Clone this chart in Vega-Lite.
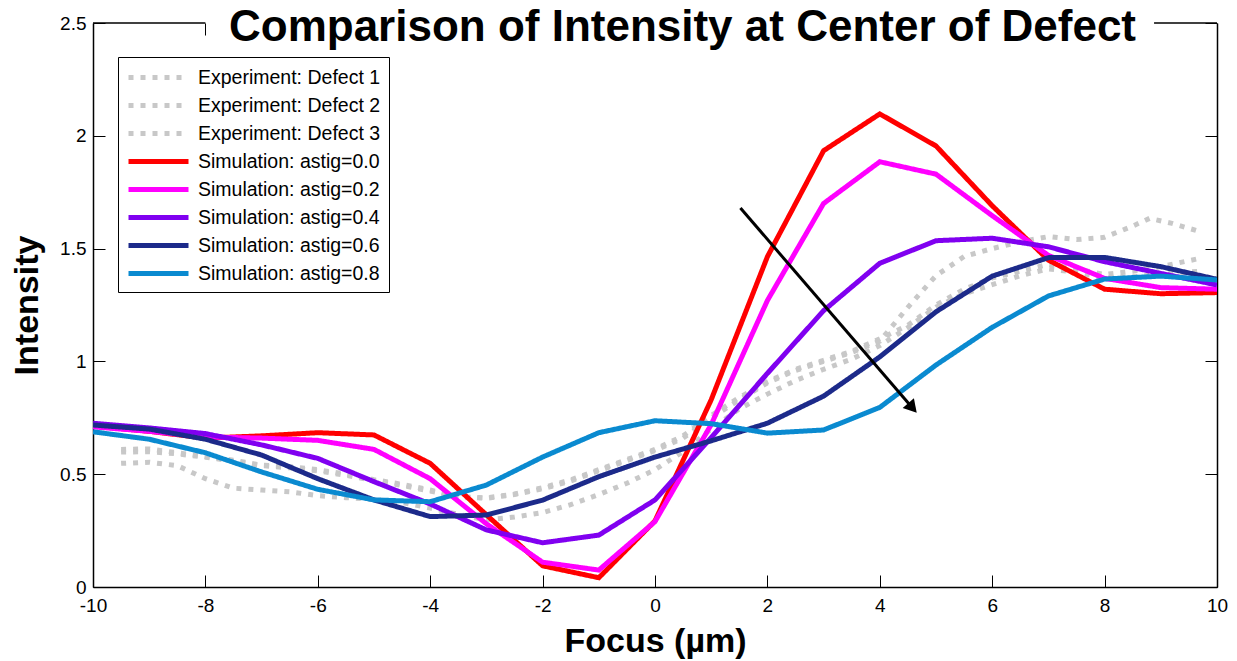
{
  "$schema": "https://vega.github.io/schema/vega-lite/v6.json",
  "width": 1124,
  "height": 564,
  "autosize": {"type": "none"},
  "padding": {"left": 93, "top": 23, "right": 20, "bottom": 74},
  "background": "white",
  "config": {"view": {"stroke": null}, "font": "Liberation Sans"},
  "datasets": {
    "curves": [
      {"focus": -9.5, "intensity": 0.61, "series": "Experiment: Defect 1"},
      {"focus": -9, "intensity": 0.612, "series": "Experiment: Defect 1"},
      {"focus": -8.5, "intensity": 0.595, "series": "Experiment: Defect 1"},
      {"focus": -8, "intensity": 0.578, "series": "Experiment: Defect 1"},
      {"focus": -7.5, "intensity": 0.562, "series": "Experiment: Defect 1"},
      {"focus": -7, "intensity": 0.54, "series": "Experiment: Defect 1"},
      {"focus": -6.5, "intensity": 0.533, "series": "Experiment: Defect 1"},
      {"focus": -6, "intensity": 0.52, "series": "Experiment: Defect 1"},
      {"focus": -5.5, "intensity": 0.5, "series": "Experiment: Defect 1"},
      {"focus": -5, "intensity": 0.476, "series": "Experiment: Defect 1"},
      {"focus": -4.5, "intensity": 0.455, "series": "Experiment: Defect 1"},
      {"focus": -4, "intensity": 0.43, "series": "Experiment: Defect 1"},
      {"focus": -3.5, "intensity": 0.4, "series": "Experiment: Defect 1"},
      {"focus": -3, "intensity": 0.393, "series": "Experiment: Defect 1"},
      {"focus": -2.5, "intensity": 0.41, "series": "Experiment: Defect 1"},
      {"focus": -2, "intensity": 0.435, "series": "Experiment: Defect 1"},
      {"focus": -1.5, "intensity": 0.47, "series": "Experiment: Defect 1"},
      {"focus": -1, "intensity": 0.515, "series": "Experiment: Defect 1"},
      {"focus": -0.5, "intensity": 0.56, "series": "Experiment: Defect 1"},
      {"focus": 0, "intensity": 0.605, "series": "Experiment: Defect 1"},
      {"focus": 0.5, "intensity": 0.66, "series": "Experiment: Defect 1"},
      {"focus": 1, "intensity": 0.75, "series": "Experiment: Defect 1"},
      {"focus": 1.5, "intensity": 0.83, "series": "Experiment: Defect 1"},
      {"focus": 2, "intensity": 0.905, "series": "Experiment: Defect 1"},
      {"focus": 2.5, "intensity": 0.96, "series": "Experiment: Defect 1"},
      {"focus": 3, "intensity": 1.0, "series": "Experiment: Defect 1"},
      {"focus": 3.5, "intensity": 1.04, "series": "Experiment: Defect 1"},
      {"focus": 4, "intensity": 1.09, "series": "Experiment: Defect 1"},
      {"focus": 4.5, "intensity": 1.24, "series": "Experiment: Defect 1"},
      {"focus": 5, "intensity": 1.38, "series": "Experiment: Defect 1"},
      {"focus": 5.5, "intensity": 1.465, "series": "Experiment: Defect 1"},
      {"focus": 6, "intensity": 1.5, "series": "Experiment: Defect 1"},
      {"focus": 6.5, "intensity": 1.53, "series": "Experiment: Defect 1"},
      {"focus": 7, "intensity": 1.553, "series": "Experiment: Defect 1"},
      {"focus": 7.5, "intensity": 1.54, "series": "Experiment: Defect 1"},
      {"focus": 8, "intensity": 1.55, "series": "Experiment: Defect 1"},
      {"focus": 8.5, "intensity": 1.6, "series": "Experiment: Defect 1"},
      {"focus": 8.8, "intensity": 1.634, "series": "Experiment: Defect 1"},
      {"focus": 9.2, "intensity": 1.612, "series": "Experiment: Defect 1"},
      {"focus": 9.7, "intensity": 1.575, "series": "Experiment: Defect 1"},
      {"focus": -9.5, "intensity": 0.598, "series": "Experiment: Defect 2"},
      {"focus": -9, "intensity": 0.6, "series": "Experiment: Defect 2"},
      {"focus": -8.5, "intensity": 0.59, "series": "Experiment: Defect 2"},
      {"focus": -8, "intensity": 0.575, "series": "Experiment: Defect 2"},
      {"focus": -7.5, "intensity": 0.558, "series": "Experiment: Defect 2"},
      {"focus": -7, "intensity": 0.538, "series": "Experiment: Defect 2"},
      {"focus": -6.5, "intensity": 0.528, "series": "Experiment: Defect 2"},
      {"focus": -6, "intensity": 0.515, "series": "Experiment: Defect 2"},
      {"focus": -5.5, "intensity": 0.495, "series": "Experiment: Defect 2"},
      {"focus": -5, "intensity": 0.472, "series": "Experiment: Defect 2"},
      {"focus": -4.5, "intensity": 0.45, "series": "Experiment: Defect 2"},
      {"focus": -4, "intensity": 0.425, "series": "Experiment: Defect 2"},
      {"focus": -3.5, "intensity": 0.4, "series": "Experiment: Defect 2"},
      {"focus": -3, "intensity": 0.395, "series": "Experiment: Defect 2"},
      {"focus": -2.5, "intensity": 0.412, "series": "Experiment: Defect 2"},
      {"focus": -2, "intensity": 0.44, "series": "Experiment: Defect 2"},
      {"focus": -1.5, "intensity": 0.475, "series": "Experiment: Defect 2"},
      {"focus": -1, "intensity": 0.52, "series": "Experiment: Defect 2"},
      {"focus": -0.5, "intensity": 0.565, "series": "Experiment: Defect 2"},
      {"focus": 0, "intensity": 0.61, "series": "Experiment: Defect 2"},
      {"focus": 0.5, "intensity": 0.67, "series": "Experiment: Defect 2"},
      {"focus": 1, "intensity": 0.76, "series": "Experiment: Defect 2"},
      {"focus": 1.5, "intensity": 0.84, "series": "Experiment: Defect 2"},
      {"focus": 2, "intensity": 0.91, "series": "Experiment: Defect 2"},
      {"focus": 2.5, "intensity": 0.965, "series": "Experiment: Defect 2"},
      {"focus": 3, "intensity": 1.005, "series": "Experiment: Defect 2"},
      {"focus": 3.5, "intensity": 1.045, "series": "Experiment: Defect 2"},
      {"focus": 4, "intensity": 1.1, "series": "Experiment: Defect 2"},
      {"focus": 4.5, "intensity": 1.16, "series": "Experiment: Defect 2"},
      {"focus": 5, "intensity": 1.25, "series": "Experiment: Defect 2"},
      {"focus": 5.5, "intensity": 1.32, "series": "Experiment: Defect 2"},
      {"focus": 6, "intensity": 1.37, "series": "Experiment: Defect 2"},
      {"focus": 6.5, "intensity": 1.4, "series": "Experiment: Defect 2"},
      {"focus": 7, "intensity": 1.43, "series": "Experiment: Defect 2"},
      {"focus": 7.5, "intensity": 1.41, "series": "Experiment: Defect 2"},
      {"focus": 8, "intensity": 1.385, "series": "Experiment: Defect 2"},
      {"focus": 8.5, "intensity": 1.4, "series": "Experiment: Defect 2"},
      {"focus": 9, "intensity": 1.42, "series": "Experiment: Defect 2"},
      {"focus": 9.7, "intensity": 1.457, "series": "Experiment: Defect 2"},
      {"focus": -9.5, "intensity": 0.548, "series": "Experiment: Defect 3"},
      {"focus": -9, "intensity": 0.553, "series": "Experiment: Defect 3"},
      {"focus": -8.5, "intensity": 0.538, "series": "Experiment: Defect 3"},
      {"focus": -8, "intensity": 0.48, "series": "Experiment: Defect 3"},
      {"focus": -7.5, "intensity": 0.438, "series": "Experiment: Defect 3"},
      {"focus": -7, "intensity": 0.43, "series": "Experiment: Defect 3"},
      {"focus": -6.5, "intensity": 0.422, "series": "Experiment: Defect 3"},
      {"focus": -6, "intensity": 0.405, "series": "Experiment: Defect 3"},
      {"focus": -5.5, "intensity": 0.396, "series": "Experiment: Defect 3"},
      {"focus": -5, "intensity": 0.388, "series": "Experiment: Defect 3"},
      {"focus": -4.5, "intensity": 0.375, "series": "Experiment: Defect 3"},
      {"focus": -4, "intensity": 0.35, "series": "Experiment: Defect 3"},
      {"focus": -3.5, "intensity": 0.322, "series": "Experiment: Defect 3"},
      {"focus": -3, "intensity": 0.297, "series": "Experiment: Defect 3"},
      {"focus": -2.5, "intensity": 0.31, "series": "Experiment: Defect 3"},
      {"focus": -2, "intensity": 0.33, "series": "Experiment: Defect 3"},
      {"focus": -1.5, "intensity": 0.365, "series": "Experiment: Defect 3"},
      {"focus": -1, "intensity": 0.41, "series": "Experiment: Defect 3"},
      {"focus": -0.5, "intensity": 0.46, "series": "Experiment: Defect 3"},
      {"focus": 0, "intensity": 0.52, "series": "Experiment: Defect 3"},
      {"focus": 0.5, "intensity": 0.6, "series": "Experiment: Defect 3"},
      {"focus": 1, "intensity": 0.7, "series": "Experiment: Defect 3"},
      {"focus": 1.5, "intensity": 0.79, "series": "Experiment: Defect 3"},
      {"focus": 2, "intensity": 0.855, "series": "Experiment: Defect 3"},
      {"focus": 2.5, "intensity": 0.915, "series": "Experiment: Defect 3"},
      {"focus": 3, "intensity": 0.965, "series": "Experiment: Defect 3"},
      {"focus": 3.5, "intensity": 1.01, "series": "Experiment: Defect 3"},
      {"focus": 4, "intensity": 1.07, "series": "Experiment: Defect 3"},
      {"focus": 4.5, "intensity": 1.15, "series": "Experiment: Defect 3"},
      {"focus": 5, "intensity": 1.24, "series": "Experiment: Defect 3"},
      {"focus": 5.5, "intensity": 1.3, "series": "Experiment: Defect 3"},
      {"focus": 6, "intensity": 1.34, "series": "Experiment: Defect 3"},
      {"focus": 6.5, "intensity": 1.38, "series": "Experiment: Defect 3"},
      {"focus": 7, "intensity": 1.41, "series": "Experiment: Defect 3"},
      {"focus": 7.5, "intensity": 1.395, "series": "Experiment: Defect 3"},
      {"focus": 8, "intensity": 1.37, "series": "Experiment: Defect 3"},
      {"focus": 8.5, "intensity": 1.375, "series": "Experiment: Defect 3"},
      {"focus": 9, "intensity": 1.385, "series": "Experiment: Defect 3"},
      {"focus": 9.7, "intensity": 1.4, "series": "Experiment: Defect 3"},
      {"focus": -10, "intensity": 0.714, "series": "Simulation: astig=0.0"},
      {"focus": -9, "intensity": 0.69, "series": "Simulation: astig=0.0"},
      {"focus": -8, "intensity": 0.66, "series": "Simulation: astig=0.0"},
      {"focus": -7, "intensity": 0.67, "series": "Simulation: astig=0.0"},
      {"focus": -6, "intensity": 0.684, "series": "Simulation: astig=0.0"},
      {"focus": -5, "intensity": 0.674, "series": "Simulation: astig=0.0"},
      {"focus": -4, "intensity": 0.548, "series": "Simulation: astig=0.0"},
      {"focus": -3, "intensity": 0.32, "series": "Simulation: astig=0.0"},
      {"focus": -2, "intensity": 0.094, "series": "Simulation: astig=0.0"},
      {"focus": -1, "intensity": 0.041, "series": "Simulation: astig=0.0"},
      {"focus": 0, "intensity": 0.293, "series": "Simulation: astig=0.0"},
      {"focus": 1, "intensity": 0.83, "series": "Simulation: astig=0.0"},
      {"focus": 2, "intensity": 1.464, "series": "Simulation: astig=0.0"},
      {"focus": 3, "intensity": 1.934, "series": "Simulation: astig=0.0"},
      {"focus": 4, "intensity": 2.097, "series": "Simulation: astig=0.0"},
      {"focus": 5, "intensity": 1.955, "series": "Simulation: astig=0.0"},
      {"focus": 6, "intensity": 1.69, "series": "Simulation: astig=0.0"},
      {"focus": 7, "intensity": 1.449, "series": "Simulation: astig=0.0"},
      {"focus": 8, "intensity": 1.32, "series": "Simulation: astig=0.0"},
      {"focus": 9, "intensity": 1.3, "series": "Simulation: astig=0.0"},
      {"focus": 10, "intensity": 1.305, "series": "Simulation: astig=0.0"},
      {"focus": -10, "intensity": 0.71, "series": "Simulation: astig=0.2"},
      {"focus": -9, "intensity": 0.69, "series": "Simulation: astig=0.2"},
      {"focus": -8, "intensity": 0.665, "series": "Simulation: astig=0.2"},
      {"focus": -7, "intensity": 0.66, "series": "Simulation: astig=0.2"},
      {"focus": -6, "intensity": 0.65, "series": "Simulation: astig=0.2"},
      {"focus": -5, "intensity": 0.61, "series": "Simulation: astig=0.2"},
      {"focus": -4, "intensity": 0.48, "series": "Simulation: astig=0.2"},
      {"focus": -3, "intensity": 0.28, "series": "Simulation: astig=0.2"},
      {"focus": -2, "intensity": 0.11, "series": "Simulation: astig=0.2"},
      {"focus": -1, "intensity": 0.075, "series": "Simulation: astig=0.2"},
      {"focus": 0, "intensity": 0.29, "series": "Simulation: astig=0.2"},
      {"focus": 1, "intensity": 0.72, "series": "Simulation: astig=0.2"},
      {"focus": 2, "intensity": 1.27, "series": "Simulation: astig=0.2"},
      {"focus": 3, "intensity": 1.7, "series": "Simulation: astig=0.2"},
      {"focus": 4, "intensity": 1.885, "series": "Simulation: astig=0.2"},
      {"focus": 5, "intensity": 1.83, "series": "Simulation: astig=0.2"},
      {"focus": 6, "intensity": 1.646, "series": "Simulation: astig=0.2"},
      {"focus": 7, "intensity": 1.47, "series": "Simulation: astig=0.2"},
      {"focus": 8, "intensity": 1.368, "series": "Simulation: astig=0.2"},
      {"focus": 9, "intensity": 1.327, "series": "Simulation: astig=0.2"},
      {"focus": 10, "intensity": 1.32, "series": "Simulation: astig=0.2"},
      {"focus": -10, "intensity": 0.726, "series": "Simulation: astig=0.4"},
      {"focus": -9, "intensity": 0.705, "series": "Simulation: astig=0.4"},
      {"focus": -8, "intensity": 0.68, "series": "Simulation: astig=0.4"},
      {"focus": -7, "intensity": 0.63, "series": "Simulation: astig=0.4"},
      {"focus": -6, "intensity": 0.57, "series": "Simulation: astig=0.4"},
      {"focus": -5, "intensity": 0.467, "series": "Simulation: astig=0.4"},
      {"focus": -4, "intensity": 0.368, "series": "Simulation: astig=0.4"},
      {"focus": -3, "intensity": 0.253, "series": "Simulation: astig=0.4"},
      {"focus": -2, "intensity": 0.196, "series": "Simulation: astig=0.4"},
      {"focus": -1, "intensity": 0.23, "series": "Simulation: astig=0.4"},
      {"focus": 0, "intensity": 0.386, "series": "Simulation: astig=0.4"},
      {"focus": 1, "intensity": 0.662, "series": "Simulation: astig=0.4"},
      {"focus": 2, "intensity": 0.947, "series": "Simulation: astig=0.4"},
      {"focus": 3, "intensity": 1.225, "series": "Simulation: astig=0.4"},
      {"focus": 4, "intensity": 1.435, "series": "Simulation: astig=0.4"},
      {"focus": 5, "intensity": 1.535, "series": "Simulation: astig=0.4"},
      {"focus": 6, "intensity": 1.546, "series": "Simulation: astig=0.4"},
      {"focus": 7, "intensity": 1.508, "series": "Simulation: astig=0.4"},
      {"focus": 8, "intensity": 1.442, "series": "Simulation: astig=0.4"},
      {"focus": 9, "intensity": 1.39, "series": "Simulation: astig=0.4"},
      {"focus": 10, "intensity": 1.339, "series": "Simulation: astig=0.4"},
      {"focus": -10, "intensity": 0.718, "series": "Simulation: astig=0.6"},
      {"focus": -9, "intensity": 0.7, "series": "Simulation: astig=0.6"},
      {"focus": -8, "intensity": 0.655, "series": "Simulation: astig=0.6"},
      {"focus": -7, "intensity": 0.585, "series": "Simulation: astig=0.6"},
      {"focus": -6, "intensity": 0.48, "series": "Simulation: astig=0.6"},
      {"focus": -5, "intensity": 0.386, "series": "Simulation: astig=0.6"},
      {"focus": -4, "intensity": 0.312, "series": "Simulation: astig=0.6"},
      {"focus": -3, "intensity": 0.319, "series": "Simulation: astig=0.6"},
      {"focus": -2, "intensity": 0.385, "series": "Simulation: astig=0.6"},
      {"focus": -1, "intensity": 0.489, "series": "Simulation: astig=0.6"},
      {"focus": 0, "intensity": 0.576, "series": "Simulation: astig=0.6"},
      {"focus": 1, "intensity": 0.648, "series": "Simulation: astig=0.6"},
      {"focus": 2, "intensity": 0.726, "series": "Simulation: astig=0.6"},
      {"focus": 3, "intensity": 0.846, "series": "Simulation: astig=0.6"},
      {"focus": 4, "intensity": 1.02, "series": "Simulation: astig=0.6"},
      {"focus": 5, "intensity": 1.22, "series": "Simulation: astig=0.6"},
      {"focus": 6, "intensity": 1.378, "series": "Simulation: astig=0.6"},
      {"focus": 7, "intensity": 1.46, "series": "Simulation: astig=0.6"},
      {"focus": 8, "intensity": 1.461, "series": "Simulation: astig=0.6"},
      {"focus": 9, "intensity": 1.42, "series": "Simulation: astig=0.6"},
      {"focus": 10, "intensity": 1.364, "series": "Simulation: astig=0.6"},
      {"focus": -10, "intensity": 0.688, "series": "Simulation: astig=0.8"},
      {"focus": -9, "intensity": 0.655, "series": "Simulation: astig=0.8"},
      {"focus": -8, "intensity": 0.595, "series": "Simulation: astig=0.8"},
      {"focus": -7, "intensity": 0.51, "series": "Simulation: astig=0.8"},
      {"focus": -6, "intensity": 0.433, "series": "Simulation: astig=0.8"},
      {"focus": -5, "intensity": 0.386, "series": "Simulation: astig=0.8"},
      {"focus": -4, "intensity": 0.378, "series": "Simulation: astig=0.8"},
      {"focus": -3, "intensity": 0.452, "series": "Simulation: astig=0.8"},
      {"focus": -2, "intensity": 0.576, "series": "Simulation: astig=0.8"},
      {"focus": -1, "intensity": 0.684, "series": "Simulation: astig=0.8"},
      {"focus": 0, "intensity": 0.737, "series": "Simulation: astig=0.8"},
      {"focus": 1, "intensity": 0.724, "series": "Simulation: astig=0.8"},
      {"focus": 2, "intensity": 0.682, "series": "Simulation: astig=0.8"},
      {"focus": 3, "intensity": 0.696, "series": "Simulation: astig=0.8"},
      {"focus": 4, "intensity": 0.796, "series": "Simulation: astig=0.8"},
      {"focus": 5, "intensity": 0.984, "series": "Simulation: astig=0.8"},
      {"focus": 6, "intensity": 1.151, "series": "Simulation: astig=0.8"},
      {"focus": 7, "intensity": 1.29, "series": "Simulation: astig=0.8"},
      {"focus": 8, "intensity": 1.365, "series": "Simulation: astig=0.8"},
      {"focus": 9, "intensity": 1.378, "series": "Simulation: astig=0.8"},
      {"focus": 10, "intensity": 1.361, "series": "Simulation: astig=0.8"}
    ],
    "border": [
      {"x": -10, "x2": -8, "y": 2.5},
      {"x": 8.88, "x2": 10, "y": 2.5}
    ],
    "arrow": [
      {"x": 1.52, "y": 1.68, "x2": 4.56, "y2": 0.80}
    ],
    "arrowhead": [
      {"x": 4.582, "y": 0.794}
    ]
  },
  "layer": [
    {
      "data": {"name": "curves"},
      "transform": [{"filter": "indexof(datum.series, 'Experiment') === 0"}],
      "mark": {"type": "line", "strokeCap": "butt", "clip": true},
      "encoding": {
        "x": {"field": "focus", "type": "quantitative", "scale": {"domain": [-10, 10], "nice": false},
          "axis": {"orient": "bottom", "values": [-10, -8, -6, -4, -2, 0, 2, 4, 6, 8, 10], "labelExpr": "'' + datum.value", "grid": false, "tickSize": -12, "labelPadding": 21, "tickColor": "black", "tickWidth": 1, "domainColor": "black", "domainWidth": 1.5, "labelFontSize": 19, "labelColor": "black", "labelFont": "Liberation Sans", "labelFlush": false, "title": "Focus (µm)", "titleFontSize": 34, "titleFontWeight": "bold", "titleFont": "Liberation Sans", "titleColor": "black", "titlePadding": 9}},
        "y": {"field": "intensity", "type": "quantitative", "scale": {"domain": [0, 2.5], "nice": false},
          "axis": {"orient": "left", "values": [0, 0.5, 1, 1.5, 2, 2.5], "labelExpr": "'' + datum.value", "grid": false, "tickSize": -12, "labelPadding": 19, "tickColor": "black", "tickWidth": 1, "domainColor": "black", "domainWidth": 1.5, "labelFontSize": 19, "labelColor": "black", "labelFont": "Liberation Sans", "labelFlush": false, "title": "Intensity", "titleFontSize": 34, "titleFontWeight": "bold", "titleFont": "Liberation Sans", "titleColor": "black", "titlePadding": 15}},
        "color": {"field": "series", "type": "nominal",
          "scale": {"domain": ["Experiment: Defect 1", "Experiment: Defect 2", "Experiment: Defect 3", "Simulation: astig=0.0", "Simulation: astig=0.2", "Simulation: astig=0.4", "Simulation: astig=0.6", "Simulation: astig=0.8"],
                    "range": ["#c8c8c8", "#c8c8c8", "#c8c8c8", "#ff0000", "#ff00ff", "#8000f0", "#1c2a8a", "#0a8ad0"]},
          "legend": {"title": null, "orient": "none", "legendX": 25, "legendY": 34, "fillColor": "white", "strokeColor": "black", "padding": 8, "labelFontSize": 19.5, "labelFont": "Liberation Sans", "labelColor": "black", "labelLimit": 400, "symbolType": "M-1,0H5", "symbolSize": 400, "labelOffset": 47, "rowPadding": 5}},
        "strokeDash": {"field": "series", "type": "nominal",
          "scale": {"domain": ["Experiment: Defect 1", "Experiment: Defect 2", "Experiment: Defect 3", "Simulation: astig=0.0", "Simulation: astig=0.2", "Simulation: astig=0.4", "Simulation: astig=0.6", "Simulation: astig=0.8"],
                    "range": [[5, 7], [5, 7], [5, 7], [1, 0], [1, 0], [1, 0], [1, 0], [1, 0]]}},
        "strokeWidth": {"field": "series", "type": "nominal",
          "scale": {"domain": ["Experiment: Defect 1", "Experiment: Defect 2", "Experiment: Defect 3", "Simulation: astig=0.0", "Simulation: astig=0.2", "Simulation: astig=0.4", "Simulation: astig=0.6", "Simulation: astig=0.8"],
                    "range": [5, 5, 5, 3, 2.5, 2.5, 2.5, 2.5]}}
      }
    },
    {
      "data": {"name": "curves"},
      "transform": [{"filter": "indexof(datum.series, 'Simulation') === 0"}],
      "mark": {"type": "line", "clip": true},
      "encoding": {
        "x": {"field": "focus", "type": "quantitative", "axis": null},
        "y": {"field": "intensity", "type": "quantitative", "axis": null},
        "color": {"field": "series", "type": "nominal"},
        "strokeDash": {"field": "series", "type": "nominal"},
        "strokeWidth": {"field": "series", "type": "nominal"}
      }
    },
    {
      "data": {"name": "border"},
      "mark": {"type": "rule", "color": "black", "strokeWidth": 1.5},
      "encoding": {
        "x": {"field": "x", "type": "quantitative",
          "axis": {"orient": "top", "values": [-8], "labels": false, "domain": false, "grid": false, "tickSize": -12, "tickColor": "black", "tickWidth": 1,
                   "title": "Comparison of Intensity at Center of Defect", "titleFontSize": 44, "titleFontWeight": "bold", "titleFont": "Liberation Sans", "titleColor": "black", "titleX": 589, "titleY": 17, "titleBaseline": "alphabetic", "titleAlign": "center", "titleAnchor": "middle"}},
        "x2": {"field": "x2"},
        "y": {"field": "y", "type": "quantitative",
          "axis": {"orient": "right", "values": [0, 0.5, 1, 1.5, 2, 2.5], "labels": false, "domain": true, "domainColor": "black", "domainWidth": 1.5, "grid": false, "tickSize": -12, "tickColor": "black", "tickWidth": 1, "title": null}}
      }
    },
    {
      "data": {"name": "arrow"},
      "mark": {"type": "rule", "color": "black", "strokeWidth": 3},
      "encoding": {
        "x": {"field": "x", "type": "quantitative", "axis": null},
        "y": {"field": "y", "type": "quantitative", "axis": null},
        "x2": {"field": "x2"},
        "y2": {"field": "y2"}
      }
    },
    {
      "data": {"name": "arrowhead"},
      "mark": {"type": "point", "shape": "triangle-up", "filled": true, "color": "black", "size": 220, "angle": 139, "opacity": 1},
      "encoding": {
        "x": {"field": "x", "type": "quantitative", "axis": null},
        "y": {"field": "y", "type": "quantitative", "axis": null}
      }
    }
  ],
  "resolve": {"axis": {"x": "independent", "y": "independent"}}
}
